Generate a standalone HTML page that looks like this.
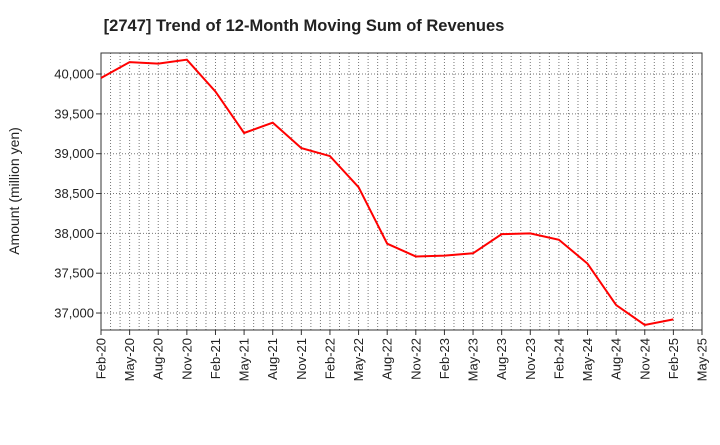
<!DOCTYPE html>
<html><head><meta charset="utf-8"><style>
body{margin:0;background:#fff;font-family:"Liberation Sans",sans-serif;}
</style></head><body>
<svg width="720" height="440" xmlns="http://www.w3.org/2000/svg">
<rect width="720" height="440" fill="#fff"/>
<text x="304" y="31" text-anchor="middle" font-size="16.5" font-weight="bold" fill="#222">[2747]  Trend of 12-Month Moving Sum of Revenues</text>
<text transform="translate(19,191) rotate(-90)" text-anchor="middle" font-size="14" fill="#222">Amount (million yen)</text>
<g id="grid"></g><g id="axes"></g><g id="series"></g>
</svg>
<script>
const categories=["Feb-20","May-20","Aug-20","Nov-20","Feb-21","May-21","Aug-21","Nov-21","Feb-22","May-22","Aug-22","Nov-22","Feb-23","May-23","Aug-23","Nov-23","Feb-24","May-24","Aug-24","Nov-24","Feb-25","May-25"];
const revenues=[39950,40150,40130,40180,39780,39260,39390,39070,38970,38580,37870,37710,37720,37750,37990,38000,37920,37620,37100,36850,36920];
const yTicks=[37000,37500,38000,38500,39000,39500,40000];
const yTickLabels=["37,000","37,500","38,000","38,500","39,000","39,500","40,000"];
const L=101,R=702,T=53,B=330,yMin=36787,yMax=40264;
const ns="http://www.w3.org/2000/svg";
const xs=i=>L+(R-L)*i/(categories.length-1);
const ys=v=>B-(v-yMin)/(yMax-yMin)*(B-T);
function mk(p,t,a){const e=document.createElementNS(ns,t);for(const k in a)e.setAttribute(k,a[k]);p.appendChild(e);return e;}
const g=document.getElementById('grid'),ax=document.getElementById('axes'),s=document.getElementById('series');
const nm=(categories.length-1)*3;
for(let m=1;m<nm;m++){const x=L+(R-L)*m/nm;const l=mk(g,'line',{x1:x,x2:x,y1:T,y2:B,stroke:'#777','stroke-dasharray':'1,2','stroke-width':1});

}
yTicks.forEach((v,i)=>{const y=ys(v);const l=mk(g,'line',{x1:L,x2:R,y1:y,y2:y,stroke:'#777','stroke-dasharray':'1,2'});


mk(ax,'line',{x1:L-5,x2:L,y1:y,y2:y,stroke:'#333'});
const t=mk(ax,'text',{x:L-7,y:y+4.5,'text-anchor':'end','font-size':13,fill:'#222'});t.textContent=yTickLabels[i];

});
categories.forEach((c,i)=>{const x=xs(i);mk(ax,'line',{x1:x,x2:x,y1:B,y2:B+5,stroke:'#333'});
const t=mk(ax,'text',{transform:`translate(${x+4.5},${B+8}) rotate(-90)`,'text-anchor':'end','font-size':13,fill:'#222'});t.textContent=c;

});
const f=mk(ax,'rect',{x:L,y:T,width:R-L,height:B-T,fill:'none',stroke:'#333','stroke-width':1});


const p=mk(s,'polyline',{points:revenues.map((v,i)=>xs(i)+','+ys(v)).join(' '),fill:'none',stroke:'#f00','stroke-width':2});


</script>
</body></html>
